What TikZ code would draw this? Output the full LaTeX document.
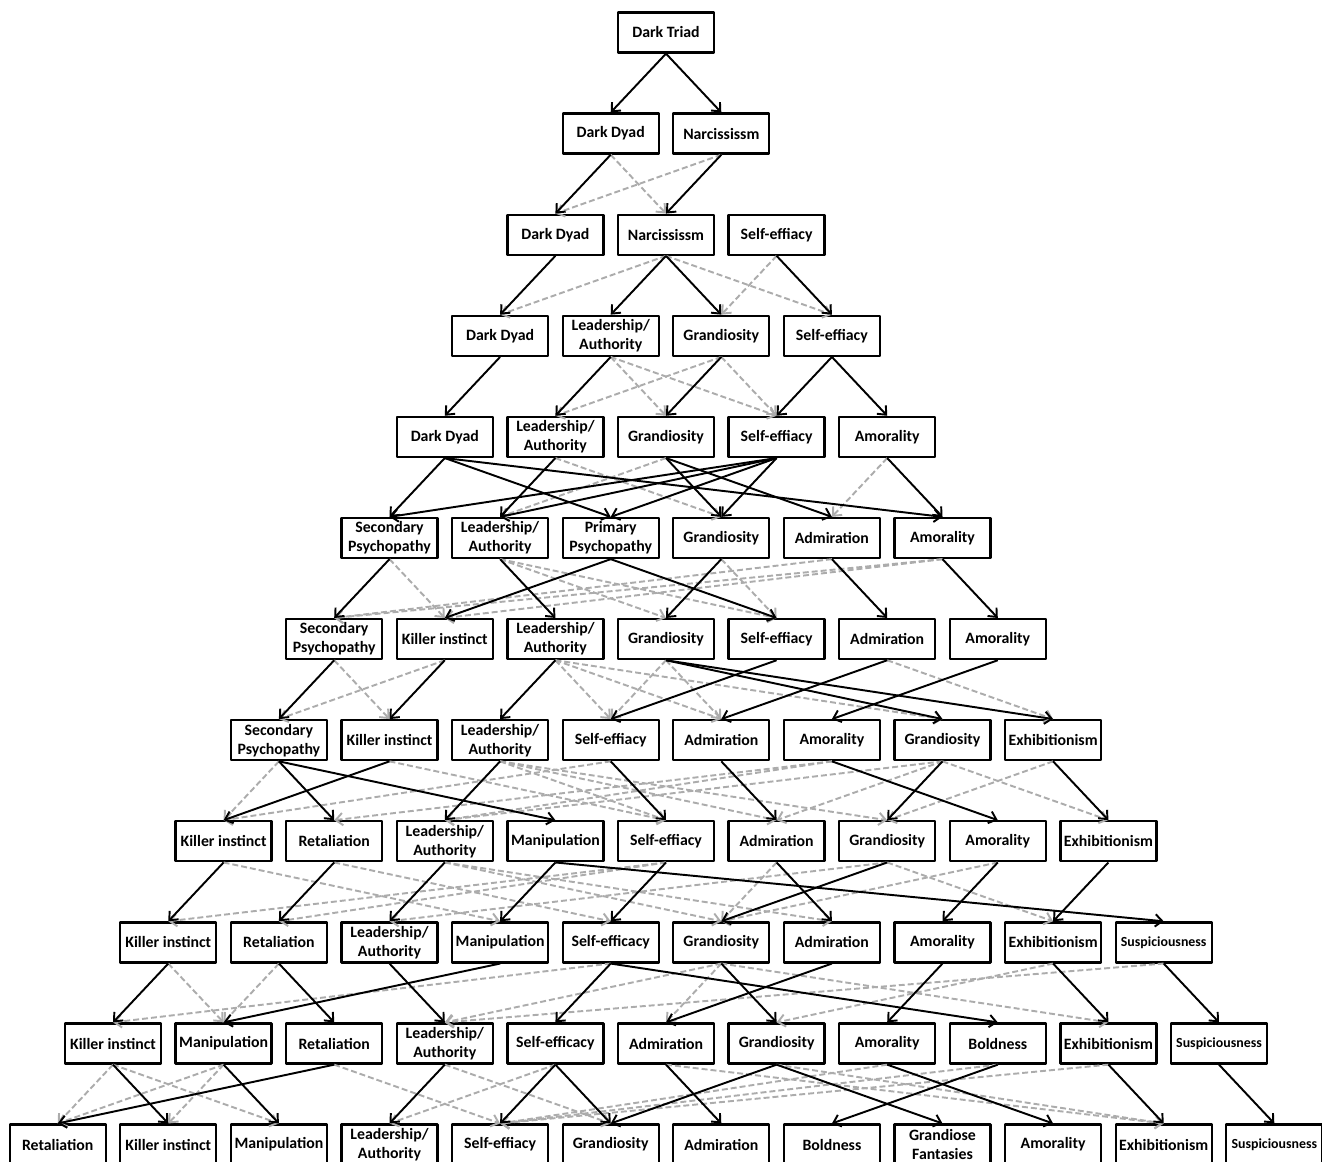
\documentclass[tikz,border=0pt]{standalone}
\usepackage{fontspec}
\setmainfont{Carlito}
\usetikzlibrary{arrows.meta}
\newcommand{\susp}{{\fontsize{7.9}{9}\selectfont Suspiciousness}}
\begin{document}
\begin{tikzpicture}[x=0.02cm,y=-0.02cm,line join=round,
	box/.style={draw,line width=1.3pt,fill=white,minimum width=1.92cm,minimum height=0.8cm,inner sep=0pt,align=center,font=\fontsize{9}{10.8}\selectfont\bfseries},
	main/.style={line width=1.1pt,-{Straight Barb[length=4pt,width=7pt]}},
	alt/.style={main,color=gray!65,dash pattern=on 3.4pt off 1.7pt}]
	\useasboundingbox (0,0) rectangle (1322,1161);
	\foreach \r/\names in {1/{Dark Triad},
		2/{Dark Dyad,Narcississm},
		3/{Dark Dyad,Narcississm,Self-effiacy},
		4/{Dark Dyad,Leadership/\\Authority,Grandiosity,Self-effiacy},
		5/{Dark Dyad,Leadership/\\Authority,Grandiosity,Self-effiacy,Amorality},
		6/{Secondary\\Psychopathy,Leadership/\\Authority,Primary\\Psychopathy,Grandiosity,Admiration,Amorality},
		7/{Secondary\\Psychopathy,Killer instinct,Leadership/\\Authority,Grandiosity,Self-effiacy,Admiration,Amorality},
		8/{Secondary\\Psychopathy,Killer instinct,Leadership/\\Authority,Self-effiacy,Admiration,Amorality,Grandiosity,Exhibitionism},
		9/{Killer instinct,Retaliation,Leadership/\\Authority,Manipulation,Self-effiacy,Admiration,Grandiosity,Amorality,Exhibitionism},
		10/{Killer instinct,Retaliation,Leadership/\\Authority,Manipulation,Self-efficacy,Grandiosity,Admiration,Amorality,Exhibitionism,\susp},
		11/{Killer instinct,Manipulation,Retaliation,Leadership/\\Authority,Self-efficacy,Admiration,Grandiosity,Amorality,Boldness,Exhibitionism,\susp},
		12/{Retaliation,Killer instinct,Manipulation,Leadership/\\Authority,Self-effiacy,Grandiosity,Admiration,Boldness,Grandiose\\Fantasies,Amorality,Exhibitionism,\susp}}
		\foreach \t [count=\j from 0] in \names
			\node[box] (n\r-\j) at ({666+(2*\j-\r+1)*55.3},{32.5+(\r-1)*101.1}) {\t};
	\foreach \r/\a/\b in {2/0/1, 2/1/0,
		3/1/0, 3/1/3, 3/2/2,
		4/1/2, 4/1/3, 4/2/1, 4/2/3,
		5/1/3, 5/2/1, 5/4/4,
		6/0/1, 6/1/3, 6/1/4, 6/3/4, 6/4/0, 6/5/0, 6/5/1,
		7/0/1, 7/1/0, 7/2/3, 7/2/4, 7/2/6, 7/3/3, 7/3/4, 7/5/7,
		8/0/0, 8/1/4, 8/2/4, 8/2/5, 8/2/6, 8/3/0, 8/5/1, 8/5/2, 8/6/2, 8/6/5, 8/6/8, 8/7/6,
		9/0/3, 9/1/4, 9/2/5, 9/2/6, 9/4/0, 9/4/1, 9/6/2, 9/5/5, 9/6/8, 9/7/5,
		10/0/1, 10/1/1, 10/4/0, 10/5/5, 10/5/3, 10/5/9, 10/8/6, 10/9/3,
		11/0/0, 11/0/2, 11/1/0, 11/1/1, 11/2/4, 11/3/5, 11/4/3, 11/5/10, 11/6/10, 11/7/4, 11/8/4, 11/9/4} {
		\pgfmathtruncatemacro\s{\r+1}
		\draw[alt] (n\r-\a.south) -- (n\s-\b.north);
	}
	\foreach \r/\a/\b in {1/0/0, 1/0/1,
		2/0/0, 2/1/1,
		3/0/0, 3/1/1, 3/1/2, 3/2/3,
		4/0/0, 4/1/1, 4/2/2, 4/3/3, 4/3/4,
		5/0/0, 5/0/2, 5/0/5, 5/1/1, 5/2/3, 5/2/4, 5/3/0, 5/3/1, 5/3/2, 5/3/3, 5/4/5,
		6/0/0, 6/1/2, 6/2/1, 6/2/4, 6/3/3, 6/4/5, 6/5/6,
		7/0/0, 7/1/1, 7/2/2, 7/3/6, 7/3/7, 7/4/3, 7/5/4, 7/6/5,
		8/0/1, 8/0/3, 8/1/0, 8/2/2, 8/3/4, 8/4/5, 8/5/7, 8/6/6, 8/7/8,
		9/0/0, 9/1/1, 9/2/2, 9/3/3, 9/3/9, 9/4/4, 9/5/6, 9/6/5, 9/7/7, 9/8/8,
		10/0/0, 10/1/2, 10/2/3, 10/3/1, 10/4/4, 10/4/8, 10/5/6, 10/6/5, 10/7/7, 10/8/9, 10/9/10,
		11/0/1, 11/1/2, 11/2/0, 11/3/3, 11/4/4, 11/4/5, 11/5/6, 11/6/5, 11/6/8, 11/7/9, 11/8/7, 11/9/10, 11/10/11} {
		\pgfmathtruncatemacro\s{\r+1}
		\draw[main] (n\r-\a.south) -- (n\s-\b.north);
	}
\end{tikzpicture}
\end{document}
